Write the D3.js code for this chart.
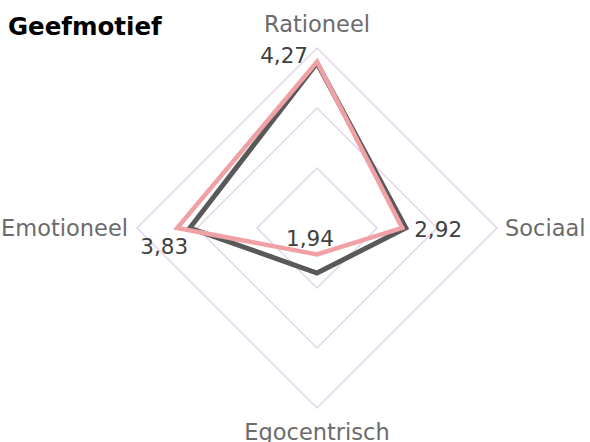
<!DOCTYPE html>
<html>
<head>
<meta charset="utf-8">
<script src="https://cdn.jsdelivr.net/npm/d3@7"></script>
<style>
  body { margin: 0; background: #fff; }
  text { font-family: "DejaVu Sans", sans-serif; }
</style>
</head>
<body>
<div id="chart"></div>
<script>
// data
var axes = ["Rationeel", "Sociaal", "Egocentrisch", "Emotioneel"];
var grijs = [4.25, 2.98, 2.25, 3.62];
var roze = [4.27, 2.92, 1.94, 3.83];
var rings = [2.5, 3.5, 4.5];
var title = "Geefmotief";

var width = 590, height = 442;
var cx = 317, cy = 228;

var svg = d3.select("#chart").append("svg")
  .attr("width", width)
  .attr("height", height);

var r = d3.scaleLinear().domain([1.5, 4.5]).range([0, 180]);

function punt(i, v) {
  var a = -Math.PI / 2 + i * 2 * Math.PI / axes.length;
  return [cx + Math.cos(a) * r(v), cy + Math.sin(a) * r(v)];
}

var line = d3.line().curve(d3.curveLinearClosed);

// grid
rings.forEach(function(t) {
  svg.append("path")
    .attr("d", line(axes.map(function(_, i) { return punt(i, t); })))
    .attr("fill", "none")
    .attr("stroke", "#e3d5ea")
    .attr("stroke-width", 1.5);
});

// series
[[grijs, "#595959", 5], [roze, "#f0a1a5", 4.5]].forEach(function(s) {
  svg.append("path")
    .attr("d", line(s[0].map(function(v, i) { return punt(i, v); })))
    .attr("fill", "none")
    .attr("stroke", s[1])
    .attr("stroke-width", s[2])
    .attr("stroke-linejoin", "miter");
});

// axis labels
var labelPos = [
  { dx: 0, dy: -16, anchor: "middle" },
  { dx: 8, dy: 8, anchor: "start" },
  { dx: 0, dy: 32, anchor: "middle" },
  { dx: -9, dy: 8, anchor: "end" }
];
axes.forEach(function(a, i) {
  var p = punt(i, 4.5);
  var lp = labelPos[i];
  svg.append("text")
    .attr("x", p[0] + lp.dx)
    .attr("y", p[1] + lp.dy)
    .attr("text-anchor", lp.anchor)
    .attr("fill", "#6b6b6b")
    .attr("font-size", 22.5)
    .text(a);
});

// value labels (pink series)
var fmt = function(v) { return d3.format(".2f")(v).replace(".", ","); };
var valPos = [
  { dx: -9, dy: 1, anchor: "end" },
  { dx: 12, dy: 9, anchor: "start" },
  { dx: -7, dy: -8, anchor: "middle" },
  { dx: 11, dy: 26, anchor: "end" }
];
roze.forEach(function(v, i) {
  var p = punt(i, v);
  var vp = valPos[i];
  svg.append("text")
    .attr("x", p[0] + vp.dx)
    .attr("y", p[1] + vp.dy)
    .attr("text-anchor", vp.anchor)
    .attr("fill", "#404040")
    .attr("font-size", 21.5)
    .text(fmt(v));
});

// title
svg.append("text")
  .attr("x", 8)
  .attr("y", 35)
  .attr("font-size", 24.5)
  .attr("font-weight", "bold")
  .attr("fill", "#000")
  .text(title);
</script>
</body>
</html>
